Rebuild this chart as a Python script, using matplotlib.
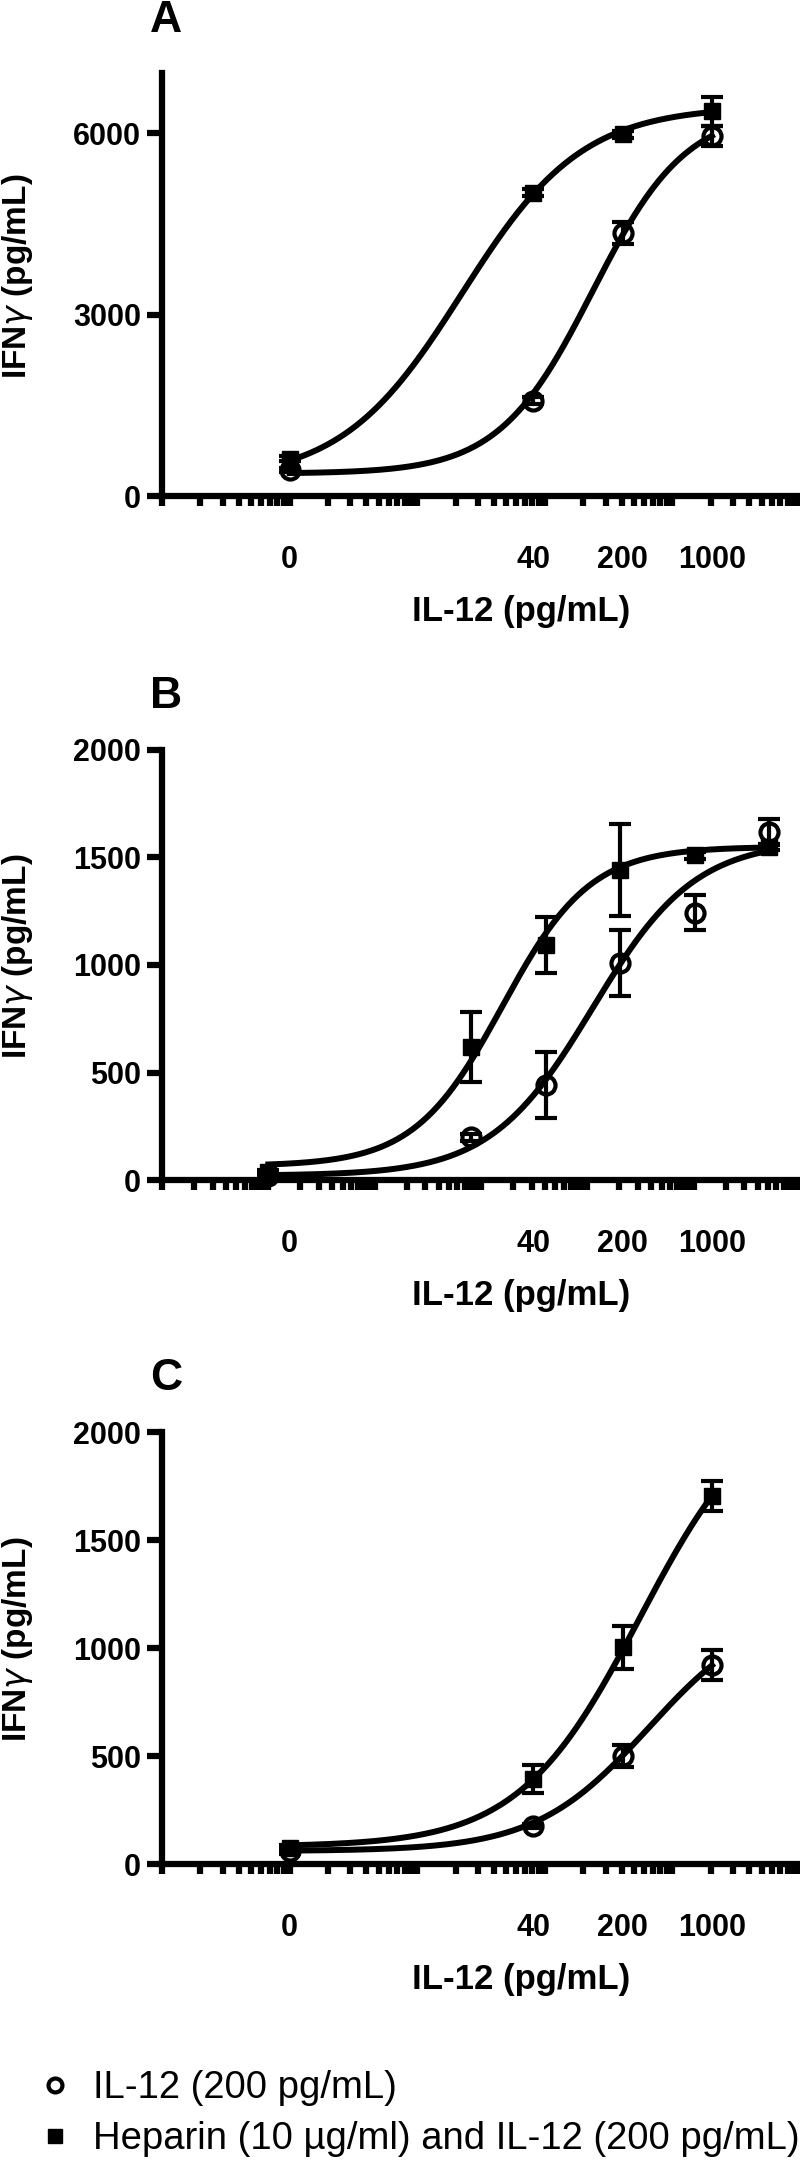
import numpy as np
import matplotlib.pyplot as plt
from matplotlib.ticker import FixedLocator, NullFormatter
from matplotlib.lines import Line2D

plt.rcParams['font.family'] = ['Liberation Sans', 'DejaVu Sans']

# x positions are in log10 units of the plotted axis (zero dose sits at 10^1)
tick_labels = ['0', '40', '200', '1000']

# panel A
a_logx = [1.0, 2.91, 3.61, 4.31]
a_il12 = [430, 1576, 4353, 5959]
a_il12_err = [40, 60, 180, 160]
a_hep = [620, 5018, 5988, 6370]
a_hep_err = [40, 60, 60, 240]
a_fit_il12 = [370, 6400, 3.374, 1.18]   # bottom, top, logEC50, hill
a_fit_hep = [250, 6450, 2.35, 0.92]

# panel B
b_logx = [1.0, 2.91, 3.61, 4.31, 5.01, 5.71]
b_il12 = [20, 198, 442, 1010, 1244, 1620]
b_il12_err = [10, 15, 153, 152, 80, 60]
b_hep = [35, 620, 1095, 1442, 1510, 1550]
b_hep_err = [10, 163, 130, 212, 15, 15]
b_fit_il12 = [20, 1580, 4.05, 0.9]
b_fit_hep = [65, 1550, 3.2, 1.05]

# panel C
c_logx = [1.0, 2.91, 3.61, 4.31]
c_il12 = [58, 176, 500, 923]
c_il12_err = [10, 10, 50, 70]
c_hep = [72, 392, 1004, 1705]
c_hep_err = [15, 65, 100, 70]
c_fit_il12 = [60, 1200, 3.813, 0.98]
c_fit_hep = [80, 2200, 3.745, 0.913]

legend_labels = ['IL-12 (200 pg/mL)', 'Heparin (10 µg/ml) and IL-12 (200 pg/mL)']


def four_pl(logx, bottom, top, logec50, hill):
    return bottom + (top - bottom) / (1 + 10 ** ((logec50 - logx) * hill))


W, H = 800, 2180
fig = plt.figure(figsize=(W / 100, H / 100), dpi=100)


def add_axes_px(left, right, top, bottom):
    return fig.add_axes([left / W, 1 - bottom / H, (right - left) / W, (bottom - top) / H])


def draw_panel(ax, letter, decades, logx, il12, il12_err, hep, hep_err,
               fit_il12, fit_hep, ymax, yticks, h_px):
    x = 10 ** np.array(logx)
    xs = np.linspace(logx[0], logx[-1], 300)
    ax.plot(10 ** xs, four_pl(xs, *fit_hep), color='black', lw=4.3, zorder=2)
    ax.plot(10 ** xs, four_pl(xs, *fit_il12), color='black', lw=4.3, zorder=2)
    ax.errorbar(x, hep, yerr=hep_err, fmt='s', color='black', ms=12,
                elinewidth=3, capsize=8, capthick=3, zorder=3, clip_on=False)
    ax.errorbar(x, il12, yerr=il12_err, fmt='o', color='black', mfc='none',
                mec='black', mew=3, ms=13, elinewidth=3, capsize=8, capthick=3,
                zorder=4, clip_on=False)

    ax.set_xscale('log')
    ax.set_xlim(1, 10 ** decades)
    ax.set_ylim(0, ymax)
    ax.set_yticks(yticks)
    for s in ['top', 'right']:
        ax.spines[s].set_visible(False)
    for s in ['left', 'bottom']:
        ax.spines[s].set_linewidth(4.5)

    minor = [m * 10 ** k for k in range(decades) for m in range(1, 10)] + [10 ** decades]
    ax.xaxis.set_minor_locator(FixedLocator(minor))
    ax.xaxis.set_minor_formatter(NullFormatter())
    ax.xaxis.remove_overlapping_locs = False
    # the dose labels sit at the same horizontal spots in every panel
    frac = np.array(a_logx) / 5.0
    ax.set_xticks(10 ** (frac * decades))
    ax.set_xticklabels(tick_labels)
    ax.tick_params(axis='x', which='major', length=0, pad=35, labelsize=22)
    ax.tick_params(axis='x', which='minor', length=7, width=4.5, direction='out')
    ax.tick_params(axis='y', length=11, width=4.5, pad=4, labelsize=22)
    for lab in ax.get_xticklabels() + ax.get_yticklabels():
        lab.set_fontweight('bold')

    ax.set_xlabel('IL-12 (pg/mL)', fontsize=25, fontweight='bold')
    ax.xaxis.set_label_coords(0.563, -115 / h_px)
    ax.xaxis.label.set_verticalalignment('center')
    ax.set_ylabel('IFN$\\gamma$ (pg/mL)', fontsize=24, fontweight='bold')
    ax.yaxis.set_label_coords(-144 / 638, 0.52)
    ax.yaxis.label.set_verticalalignment('center')
    ax.text(0.006, 1 + 53 / h_px, letter, transform=ax.transAxes, ha='center',
            va='center', fontsize=32, fontweight='bold')


ax_a = add_axes_px(162, 800, 73, 496)
draw_panel(ax_a, 'A', 5, a_logx, a_il12, a_il12_err, a_hep, a_hep_err,
           a_fit_il12, a_fit_hep, 7000, [0, 3000, 6000], 423)

ax_b = add_axes_px(162, 800, 750, 1180)
draw_panel(ax_b, 'B', 6, b_logx, b_il12, b_il12_err, b_hep, b_hep_err,
           b_fit_il12, b_fit_hep, 2000, [0, 500, 1000, 1500, 2000], 430)

ax_c = add_axes_px(162, 800, 1432, 1864)
draw_panel(ax_c, 'C', 5, c_logx, c_il12, c_il12_err, c_hep, c_hep_err,
           c_fit_il12, c_fit_hep, 2000, [0, 500, 1000, 1500, 2000], 432)

handles = [
    Line2D([], [], marker='o', ls='none', mfc='none', mec='black', mew=3, ms=10),
    Line2D([], [], marker='s', ls='none', color='black', ms=10),
]
fig.legend(handles, legend_labels, loc='upper left',
           bbox_to_anchor=(36 / W, 1 - 2070 / H), frameon=False, fontsize=27.5,
           handlelength=1.0, handletextpad=0.5, labelspacing=0.4,
           borderpad=0, borderaxespad=0)

fig.savefig('out.png', dpi=100)
